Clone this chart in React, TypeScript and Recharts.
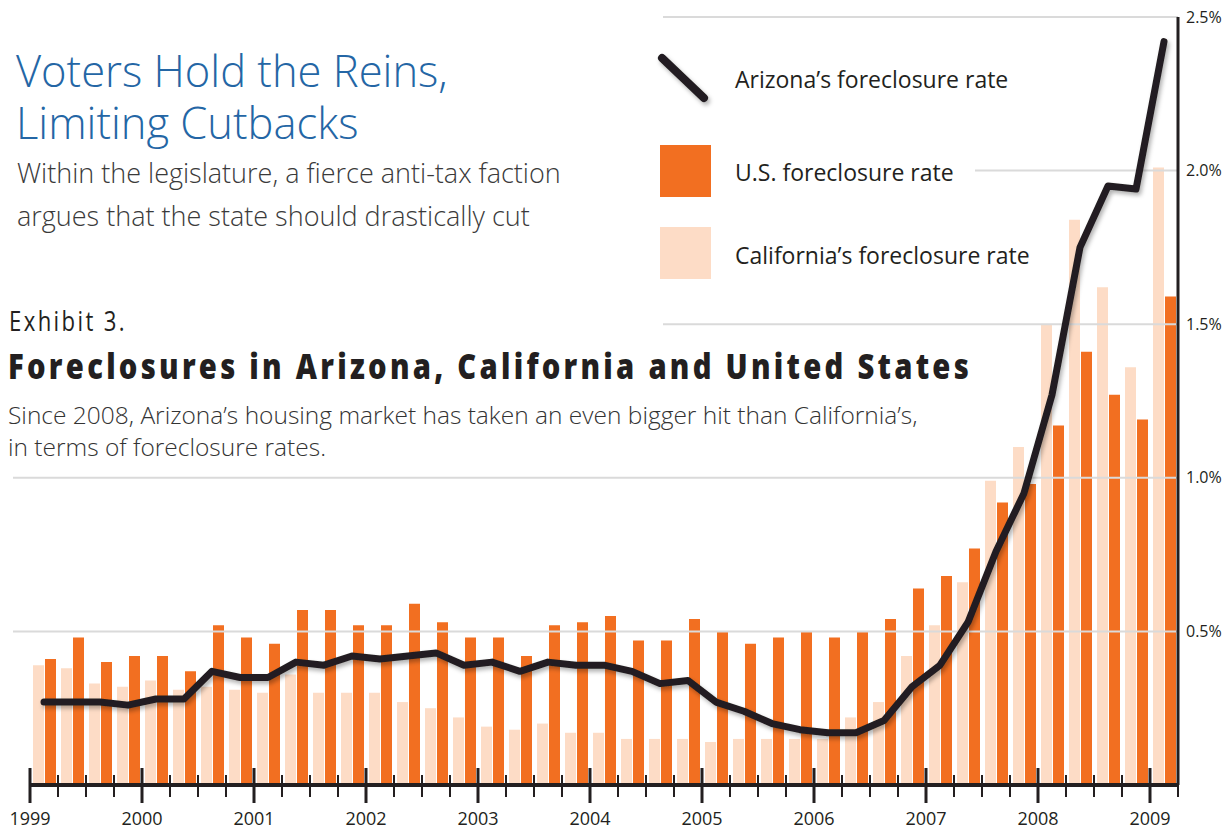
import React from 'react';
import { ComposedChart, Bar, Line, XAxis, YAxis, ReferenceLine } from 'recharts';

const quarters = [
  '1999 Q1', '1999 Q2', '1999 Q3', '1999 Q4',
  '2000 Q1', '2000 Q2', '2000 Q3', '2000 Q4',
  '2001 Q1', '2001 Q2', '2001 Q3', '2001 Q4',
  '2002 Q1', '2002 Q2', '2002 Q3', '2002 Q4',
  '2003 Q1', '2003 Q2', '2003 Q3', '2003 Q4',
  '2004 Q1', '2004 Q2', '2004 Q3', '2004 Q4',
  '2005 Q1', '2005 Q2', '2005 Q3', '2005 Q4',
  '2006 Q1', '2006 Q2', '2006 Q3', '2006 Q4',
  '2007 Q1', '2007 Q2', '2007 Q3', '2007 Q4',
  '2008 Q1', '2008 Q2', '2008 Q3', '2008 Q4',
  '2009 Q1',
];

// foreclosure rates, percent
const californiaRate = [
  0.39, 0.38, 0.33, 0.32, 0.34, 0.31, 0.32, 0.31, 0.30, 0.36, 0.30,
  0.30, 0.30, 0.27, 0.25, 0.22, 0.19, 0.18, 0.20, 0.17, 0.17, 0.15,
  0.15, 0.15, 0.14, 0.15, 0.15, 0.15, 0.15, 0.22, 0.27, 0.42, 0.52,
  0.66, 0.99, 1.10, 1.50, 1.84, 1.62, 1.36, 2.01,
];
const usRate = [
  0.41, 0.48, 0.40, 0.42, 0.42, 0.37, 0.52, 0.48, 0.46, 0.57, 0.57,
  0.52, 0.52, 0.59, 0.53, 0.48, 0.48, 0.42, 0.52, 0.53, 0.55, 0.47,
  0.47, 0.54, 0.50, 0.46, 0.48, 0.50, 0.48, 0.50, 0.54, 0.64, 0.68,
  0.77, 0.92, 0.98, 1.17, 1.41, 1.27, 1.19, 1.59,
];
const arizonaRate = [
  0.27, 0.27, 0.27, 0.26, 0.28, 0.28, 0.37, 0.35, 0.35, 0.40, 0.39,
  0.42, 0.41, 0.42, 0.43, 0.39, 0.40, 0.37, 0.40, 0.39, 0.39, 0.37,
  0.33, 0.34, 0.27, 0.24, 0.20, 0.18, 0.17, 0.17, 0.21, 0.32, 0.39,
  0.53, 0.76, 0.95, 1.27, 1.75, 1.95, 1.94, 2.42,
];

const yTicks = [0.5, 1.0, 1.5, 2.0, 2.5];
// where each gridline begins on the left (px), so it clears the text
const gridStart: Record<string, number> = { '0.5': 13, '1': 13, '1.5': 663, '2': 975, '2.5': 663 };

const W = 1228;
const H = 829;
const PLOT_LEFT = 30;
const Y_AXIS_W = 50;
const PLOT_W = W - PLOT_LEFT - Y_AXIS_W;
const HALF_BAND = PLOT_W / quarters.length / 2;

const INK = '#231f20';
const ORANGE = '#f26f21';
const PEACH = '#fddcc6';
const GRID = '#dadada';
const FONT = '"Open Sans", "Noto Sans", sans-serif';

const chartData = quarters.map((q, i) => ({
  quarter: q,
  ca: californiaRate[i],
  us: usRate[i],
  az: arizonaRate[i],
}));

const QuarterTick = (props: any) => {
  const { x, y, payload, index } = props;
  const left = x - HALF_BAND;
  const [year, q] = String(payload.value).split(' ');
  const major = q === 'Q1';
  return (
    <g>
      {major ? (
        <line x1={left} x2={left} y1={y - 17} y2={y + 18} stroke={INK} strokeWidth={3} />
      ) : (
        <line x1={left} x2={left} y1={y - 10} y2={y + 12} stroke={INK} strokeWidth={2} />
      )}
      {major && (
        <text x={left} y={y + 40} textAnchor="middle" fill={INK} fontSize={18} fontFamily={FONT}>
          {year}
        </text>
      )}
      {index === quarters.length - 1 && (
        <line x1={x + HALF_BAND} x2={x + HALF_BAND} y1={y - 10} y2={y + 12} stroke={INK} strokeWidth={2} />
      )}
    </g>
  );
};

const GridShape = (v: number) => (p: any) => {
  const right = Math.max(p.x1, p.x2);
  return <line x1={gridStart[String(v)]} y1={p.y1} x2={right} y2={p.y2} stroke={GRID} strokeWidth={2} />;
};

const legendText: React.CSSProperties = {
  position: 'absolute',
  left: 735,
  fontFamily: FONT,
  fontSize: 23,
  lineHeight: '30px',
  color: INK,
  whiteSpace: 'nowrap',
};

const App: React.FC = () => {
  return (
    <div style={{ position: 'absolute', left: 0, top: 0, width: W, height: H, background: '#fff', overflow: 'hidden' }}>
      <ComposedChart
        width={W}
        height={H}
        data={chartData}
        margin={{ top: 17, right: 0, left: PLOT_LEFT, bottom: 0 }}
        barGap={1}
        barSize={11}
      >
        <defs>
          <filter id="lineShadow" filterUnits="userSpaceOnUse" x={0} y={0} width={W} height={H}>
            <feDropShadow dx={2} dy={3} stdDeviation={2} floodColor="#000" floodOpacity={0.3} />
          </filter>
        </defs>
        {yTicks.map((v) => (
          <ReferenceLine key={v} y={v} stroke={GRID} shape={GridShape(v)} />
        ))}
        <XAxis
          dataKey="quarter"
          interval={0}
          tickSize={0}
          tickMargin={0}
          tickLine={false}
          axisLine={{ stroke: INK, strokeWidth: 4 }}
          tick={(p: any) => <QuarterTick {...p} />}
          height={44}
        />
        <YAxis
          orientation="right"
          domain={[0, 2.5]}
          ticks={yTicks}
          tickFormatter={(v: number) => `${v.toFixed(1)}%`}
          axisLine={{ stroke: INK, strokeWidth: 3 }}
          tickLine={false}
          tick={{ fill: INK, fontSize: 16, fontFamily: FONT }}
          width={Y_AXIS_W}
        />
        <Bar dataKey="ca" fill={PEACH} isAnimationActive={false} />
        <Bar dataKey="us" fill={ORANGE} isAnimationActive={false} />
        <Line
          type="linear"
          dataKey="az"
          stroke={INK}
          strokeWidth={7}
          strokeLinejoin="round"
          strokeLinecap="round"
          dot={false}
          activeDot={false}
          filter="url(#lineShadow)"
          isAnimationActive={false}
        />
      </ComposedChart>

      {/* headline block */}
      <div style={{ position: 'absolute', left: 16, top: 45, fontFamily: FONT, fontWeight: 300, fontSize: 43.5, lineHeight: '52px', color: '#2466a5', whiteSpace: 'nowrap' }}>
        Voters Hold the Reins,<br />Limiting Cutbacks
      </div>
      <div style={{ position: 'absolute', left: 17, top: 151, fontFamily: FONT, fontWeight: 300, fontSize: 27, lineHeight: '43px', color: '#3a3a3a', whiteSpace: 'nowrap' }}>
        Within the legislature, a fierce anti-tax faction<br />argues that the state should drastically cut
      </div>
      <svg style={{ position: 'absolute', left: 0, top: 290 }} width={W} height={100}>
        <text x={9} y={41} fontFamily={FONT} fontSize={28} fill={INK} letterSpacing={3} textLength={118} lengthAdjust="spacingAndGlyphs">
          Exhibit 3.
        </text>
        <text x={8} y={89} fontFamily={FONT} fontWeight={800} fontSize={36} fill={INK} letterSpacing={4} textLength={964} lengthAdjust="spacingAndGlyphs">
          Foreclosures in Arizona, California and United States
        </text>
      </svg>
      <div style={{ position: 'absolute', left: 8, top: 399, fontFamily: FONT, fontWeight: 300, fontSize: 24.5, lineHeight: '32px', color: '#333', whiteSpace: 'nowrap' }}>
        Since 2008, Arizona’s housing market has taken an even bigger hit than California’s,<br />in terms of foreclosure rates.
      </div>

      {/* legend */}
      <svg style={{ position: 'absolute', left: 650, top: 45 }} width={70} height={70}>
        <defs>
          <filter id="keyShadow" x="-50%" y="-50%" width="200%" height="200%">
            <feDropShadow dx={2} dy={3} stdDeviation={2} floodColor="#000" floodOpacity={0.3} />
          </filter>
        </defs>
        <line x1={12} y1={13} x2={54} y2={53} stroke={INK} strokeWidth={8} strokeLinecap="round" filter="url(#keyShadow)" />
      </svg>
      <div style={{ ...legendText, top: 64 }}>Arizona’s foreclosure rate</div>
      <div style={{ position: 'absolute', left: 660, top: 145, width: 51, height: 52, background: ORANGE }} />
      <div style={{ ...legendText, top: 157 }}>U.S. foreclosure rate</div>
      <div style={{ position: 'absolute', left: 660, top: 227, width: 51, height: 52, background: PEACH }} />
      <div style={{ ...legendText, top: 240 }}>California’s foreclosure rate</div>
    </div>
  );
};

export default App;
